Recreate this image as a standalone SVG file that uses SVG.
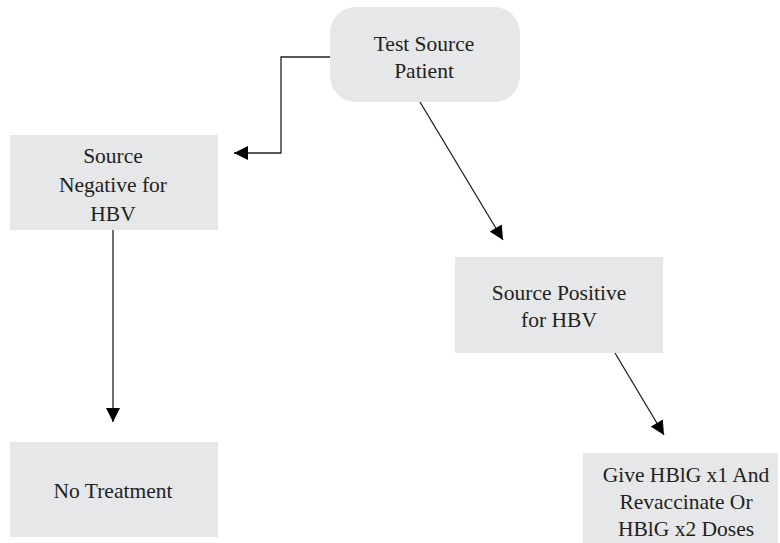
<svg xmlns="http://www.w3.org/2000/svg" width="780" height="543" viewBox="0 0 780 543">
<style>
.box{fill:#e6e7e8;stroke:none}
.t{font-family:'Liberation Serif','Times New Roman',Times,'DejaVu Serif',serif;font-size:21.5px;fill:#231f20;text-anchor:middle}
.c{fill:none;stroke:#231f20;stroke-width:1.3}
</style>
<defs>
<marker id="ah" viewBox="0 0 10 10" refX="10" refY="5" markerWidth="15" markerHeight="14" markerUnits="userSpaceOnUse" orient="auto">
<path d="M0,0 L10,5 L0,10 z" fill="#000"/>
</marker>
</defs>
<rect width="780" height="543" fill="#fff"/>
<g id="connectors">
<polyline class="c" points="330,57 281,57 281,153 234,153" marker-end="url(#ah)"/>
<line class="c" x1="420" y1="102" x2="503" y2="240" marker-end="url(#ah)"/>
<line class="c" x1="113" y1="230" x2="113" y2="422" marker-end="url(#ah)"/>
<line class="c" x1="615" y1="353" x2="664" y2="435" marker-end="url(#ah)"/>
</g>
<g id="test-source">
<rect class="box" x="330" y="7" width="190" height="95" rx="26"/>
<text class="t" x="424" y="51">Test Source</text>
<text class="t" x="424" y="78">Patient</text>
</g>
<g id="source-negative">
<rect class="box" x="10" y="135" width="208" height="95"/>
<text class="t" x="113" y="163">Source</text>
<text class="t" x="113" y="192">Negative for</text>
<text class="t" x="113" y="221">HBV</text>
</g>
<g id="source-positive">
<rect class="box" x="455" y="257" width="208" height="96"/>
<text class="t" x="559" y="300">Source Positive</text>
<text class="t" x="559" y="327">for HBV</text>
</g>
<g id="no-treatment">
<rect class="box" x="10" y="442" width="208" height="95"/>
<text class="t" x="113" y="498">No Treatment</text>
</g>
<g id="give-hbig">
<rect class="box" x="583" y="453" width="195" height="90"/>
<text class="t" x="686" y="482">Give HBlG x1 And</text>
<text class="t" x="686" y="509">Revaccinate Or</text>
<text class="t" x="686" y="536">HBlG x2 Doses</text>
</g>
</svg>
